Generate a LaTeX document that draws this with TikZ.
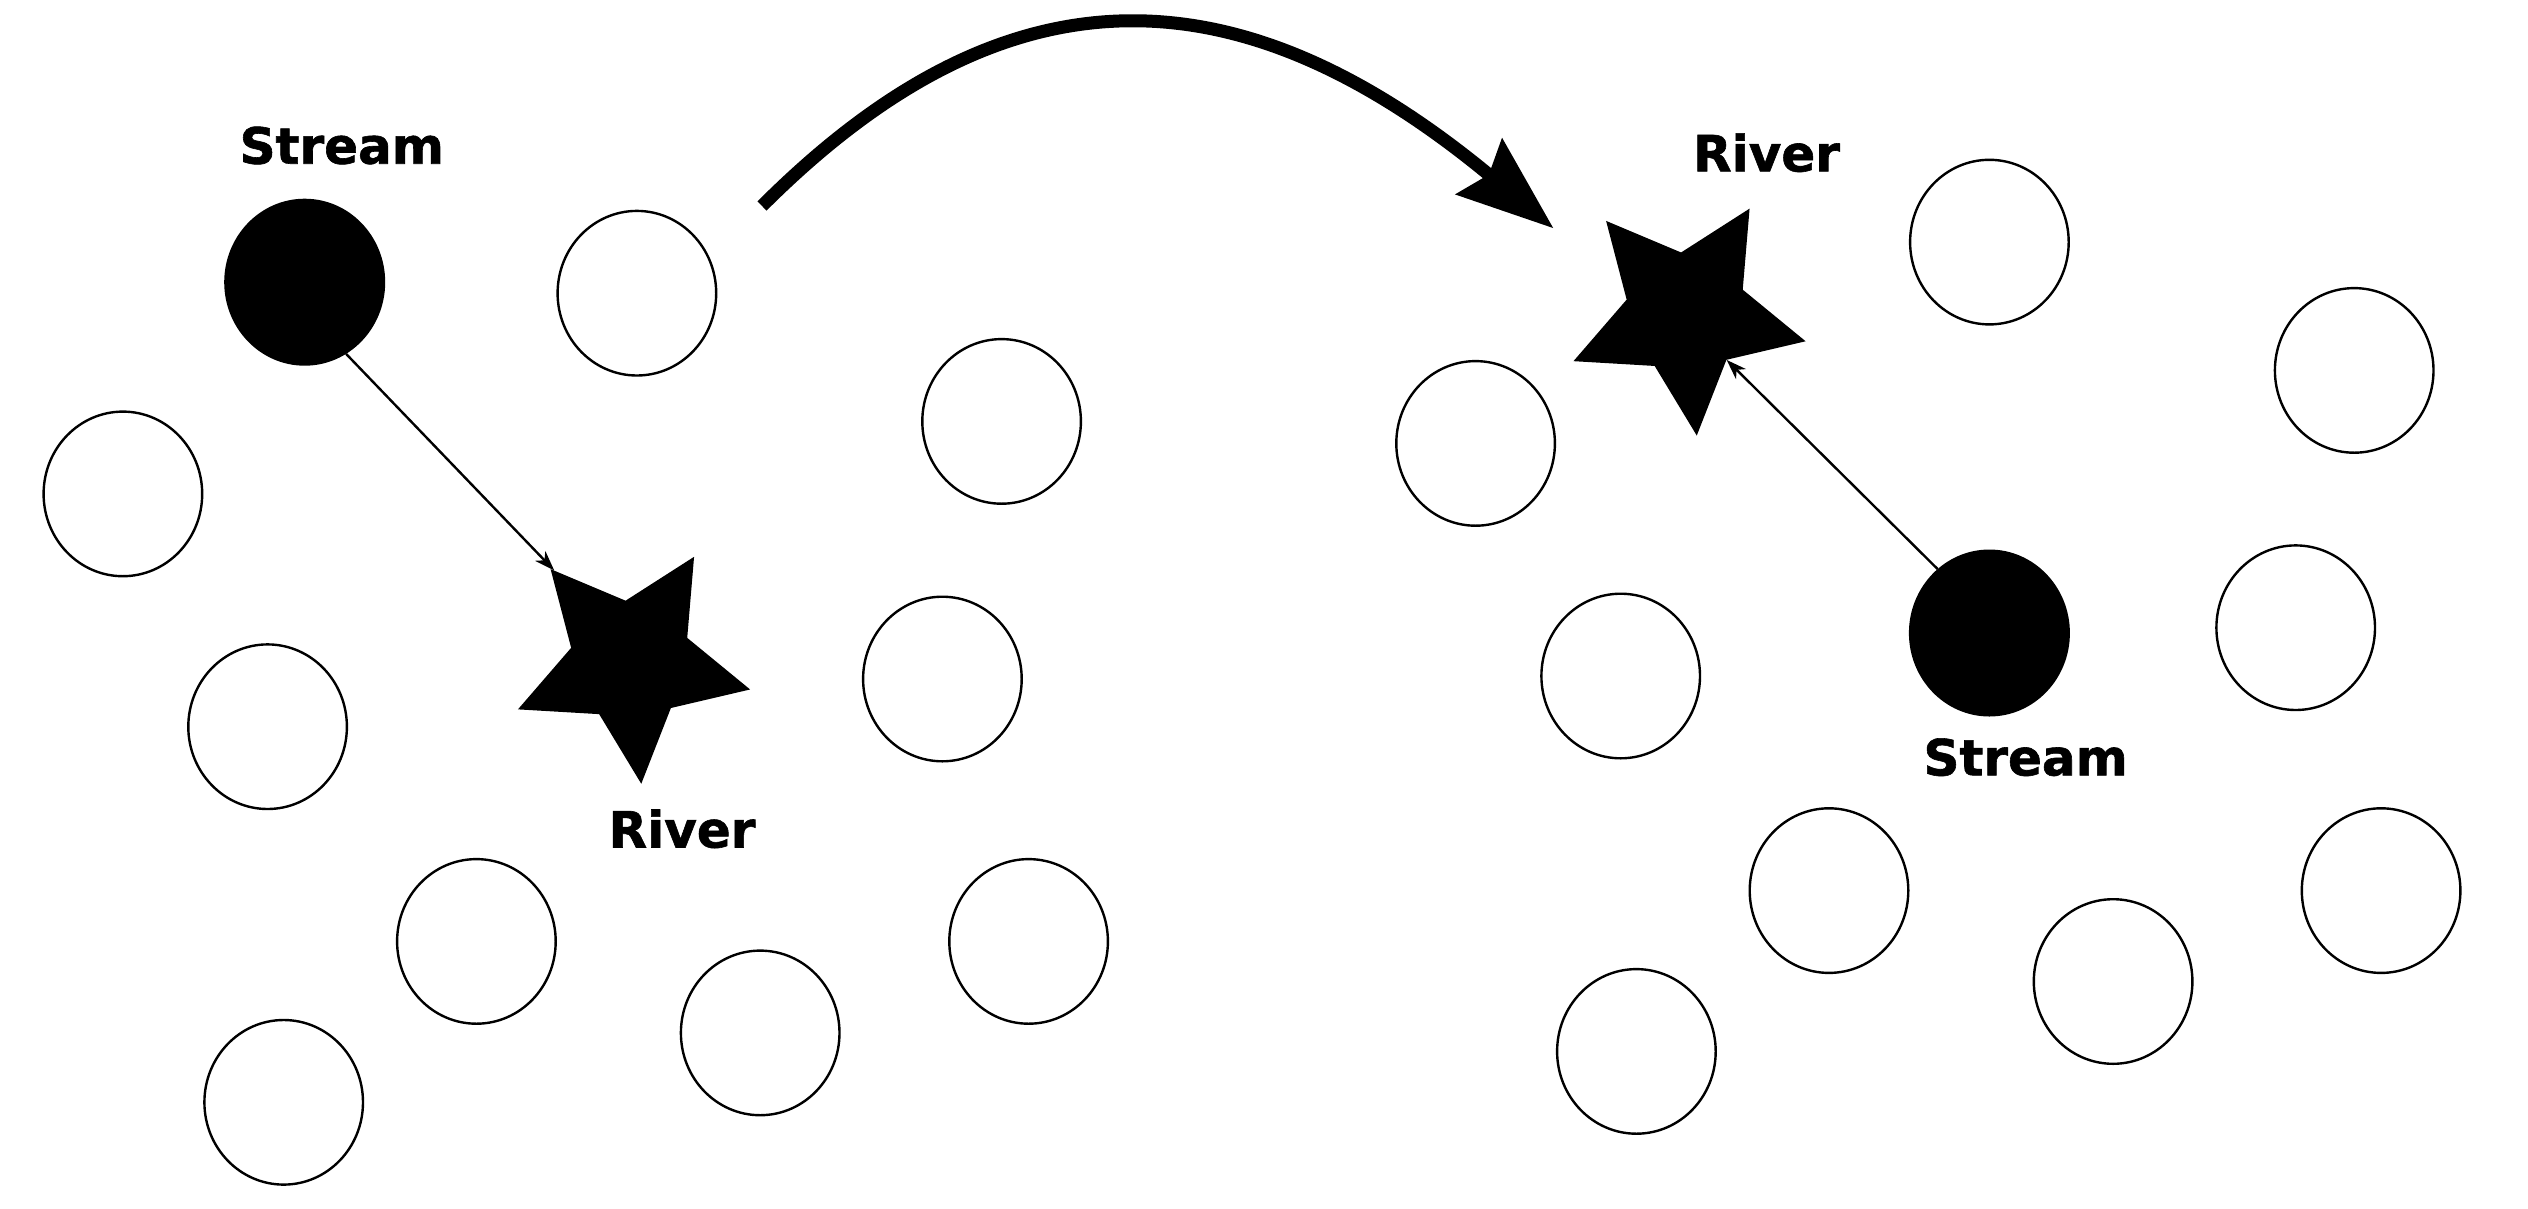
\documentclass[tikz,border=0pt]{standalone}
\usepackage{fontspec}
\setmainfont{DejaVu Sans}[BoldFeatures={FakeBold=1.2}]
\usetikzlibrary{shapes.geometric,arrows.meta}
\begin{document}
\begin{tikzpicture}[x=1pt,y=-1pt,
  pebble/.style={ellipse,draw,line width=2.4pt,minimum width=158.6pt,minimum height=164.6pt,inner sep=0pt},
  srcnode/.style={pebble,fill=black},
  starnode/.style={star,star points=5,star point ratio=2,fill=black,inner sep=0pt,minimum size=245pt,shape border rotate=-31.1},
  lab/.style={font=\fontsize{50}{60}\selectfont\bfseries,anchor=base,inner sep=0pt},
  link/.style={line width=2.4pt,-{Stealth[length=20pt,width=14pt,inset=6pt]}},
  jump/.style={line width=13pt,-{Stealth[length=96pt,width=71pt,inset=12pt]}}]
\useasboundingbox (0,0) rectangle (2528,1208);
% left cluster
\node[srcnode] (sL) at (304.7,282.2) {};
\node[pebble] (a1) at (636.9,293.2) {};
\node[pebble] (a2) at (122.9,493.9) {};
\node[pebble] (a3) at (1001.6,421.4) {};
\node[pebble] (a4) at (267.6,726.7) {};
\node[pebble] (a5) at (942.4,679) {};
\node[pebble] (a6) at (476.4,941.4) {};
\node[pebble] (a7) at (283.7,1102.3) {};
\node[pebble] (a8) at (760.2,1032.9) {};
\node[pebble] (a9) at (1028.6,941.4) {};
\node[starnode] (stL) at (630.8,661.7) {};
\node[lab] (tSL) at (341.8,163.7) {Stream};
\node[lab] (tRL) at (682,847.5) {River};
\draw[link] (sL.-60.5) -- (stL.130.9);
% right cluster
\node[srcnode] (sR) at (1989.4,633) {};
\node[pebble] (b1) at (1989.4,242.1) {};
\node[pebble] (b2) at (2354.2,370.4) {};
\node[pebble] (b3) at (1475.6,443.4) {};
\node[pebble] (b4) at (1620.7,676) {};
\node[pebble] (b5) at (2295.7,627.7) {};
\node[pebble] (b6) at (1829,890.6) {};
\node[pebble] (b7) at (2113.1,981.5) {};
\node[pebble] (b8) at (2381.1,890.6) {};
\node[pebble] (b9) at (1636.4,1051.4) {};
\node[starnode] (stR) at (1686.3,313.5) {};
\node[lab] (tRR) at (1766.5,171.4) {River};
\node[lab] (tSR) at (2025.6,775.4) {Stream};
\draw[link] (sR.129.8) -- (stR.-49);
% big curved arrow
\coordinate (jS) at (762,206);
\coordinate (jE) at (1553.5,228.3);
\draw[jump] (jS) .. controls (998.8,-30.8) and (1229.4,-40.7) .. (jE);
\end{tikzpicture}
\end{document}
